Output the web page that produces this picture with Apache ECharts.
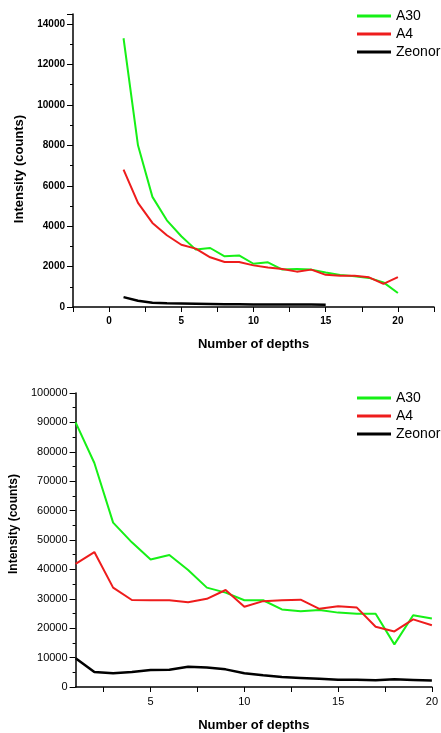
<!DOCTYPE html>
<html>
<head>
<meta charset="utf-8">
<script src="https://cdn.jsdelivr.net/npm/echarts@6/dist/echarts.min.js"></script>
<style>
html, body { margin: 0; padding: 0; background: #fff; }
#main { width: 441px; height: 733px; }
</style>
</head>
<body>
<div id="main"></div>
<script>
const myChart = echarts.init(document.getElementById('main'));

// top chart
const depthsTop = [1, 2, 3, 4, 5, 6, 7, 8, 9, 10, 11, 12, 13, 14, 15, 16, 17, 18, 19, 20];
const a30Top = [13300, 8000, 5450, 4290, 3500, 2840, 2920, 2510, 2550, 2140, 2210, 1850, 1880, 1850, 1710, 1590, 1520, 1440, 1220, 690];
const a4Top = [6800, 5150, 4160, 3550, 3080, 2890, 2460, 2230, 2230, 2060, 1950, 1880, 1750, 1850, 1590, 1550, 1550, 1470, 1140, 1480];
const zeonorTop = [490, 310, 210, 180, 175, 165, 150, 130, 130, 125, 120, 120, 125, 120, 110];

// bottom chart
const depthsBottom = [1, 2, 3, 4, 5, 6, 7, 8, 9, 10, 11, 12, 13, 14, 15, 16, 17, 18, 19, 20];
const a30Bottom = [90000, 76200, 55900, 49200, 43400, 44900, 39800, 33800, 32100, 29500, 29500, 26400, 25800, 26200, 25300, 24900, 24900, 14500, 24400, 23300];
const a4Bottom = [41900, 45900, 33800, 29600, 29500, 29500, 28800, 30000, 33000, 27300, 29200, 29500, 29700, 26600, 27500, 27000, 20500, 18900, 23000, 21000];
const zeonorBottom = [9800, 5100, 4700, 5100, 5800, 5900, 6900, 6600, 6000, 4700, 4000, 3400, 3100, 2800, 2500, 2500, 2300, 2600, 2400, 2200];

const topXTicks = [0, 5, 10, 15, 20];
const bottomXTicks = [5, 10, 15, 20];
const bottomXMinor = [2.5, 5, 7.5, 10, 12.5, 15, 17.5, 20];

const names = ['A30', 'A4', 'Zeonor'];
const colors = ['#16f016', '#ee1c1c', '#000000'];

function pairs(xs, ys) {
    return ys.map(function (v, i) { return [xs[i], v]; });
}

const axisLine = { show: true, onZero: false, lineStyle: { color: '#000', width: 1.5 } };
const fontFam = 'Liberation Sans, Arial, sans-serif';
const plain = function (v) { return String(v); };

option = {
    animation: false,
    backgroundColor: '#fff',
    color: colors,
    legend: [
        {
            data: names, orient: 'vertical', left: 357, top: 9, padding: 0,
            icon: 'rect', itemWidth: 34, itemHeight: 3, itemGap: 4,
            textStyle: { fontSize: 14, color: '#000', fontFamily: fontFam }
        },
        {
            data: names, orient: 'vertical', left: 357, top: 391, padding: 0,
            icon: 'rect', itemWidth: 34, itemHeight: 3, itemGap: 4,
            textStyle: { fontSize: 14, color: '#000', fontFamily: fontFam }
        }
    ],
    grid: [
        { left: 73, top: 14, width: 361, height: 293 },
        { left: 73, top: 393, width: 362, height: 295 }
    ],
    xAxis: [
        {
            type: 'value', gridIndex: 0, min: -2.5, max: 22.5, interval: 2.5,
            name: 'Number of depths', nameLocation: 'middle', nameGap: 31,
            nameTextStyle: { fontSize: 13, fontWeight: 'bold', color: '#000', fontFamily: fontFam },
            axisLine: axisLine,
            axisTick: { show: true, length: 5, lineStyle: { color: '#000' } },
            axisLabel: {
                fontSize: 10, fontWeight: 'bold', color: '#000', margin: 9, fontFamily: fontFam,
                formatter: function (v) { return topXTicks.indexOf(v) >= 0 ? String(v) : ''; }
            },
            splitLine: { show: false }
        },
        {
            type: 'value', gridIndex: 1, min: 1, max: 20,
            name: 'Number of depths', nameLocation: 'middle', nameGap: 32,
            nameTextStyle: { fontSize: 13, fontWeight: 'bold', color: '#000', fontFamily: fontFam },
            axisLine: axisLine,
            axisTick: { show: true, length: 5, customValues: bottomXMinor, lineStyle: { color: '#000' } },
            axisLabel: { fontSize: 11, color: '#000', margin: 9, customValues: bottomXTicks, fontFamily: fontFam, formatter: plain },
            splitLine: { show: false }
        }
    ],
    yAxis: [
        {
            type: 'value', gridIndex: 0, min: 0, max: 14500, interval: 2000,
            name: 'Intensity (counts)', nameLocation: 'middle', nameGap: 44,
            nameTextStyle: { fontSize: 13, fontWeight: 'bold', color: '#000', fontFamily: fontFam, padding: [0, 17, 0, 0] },
            axisLine: axisLine,
            axisTick: { show: true, length: 6, lineStyle: { color: '#000' } },
            minorTick: { show: true, splitNumber: 2, length: 3, lineStyle: { color: '#000' } },
            axisLabel: { fontSize: 10, fontWeight: 'bold', color: '#000', margin: 8, showMaxLabel: false, fontFamily: fontFam, formatter: plain },
            splitLine: { show: false }
        },
        {
            type: 'value', gridIndex: 1, min: 0, max: 100000, interval: 10000,
            name: 'Intensity (counts)', nameLocation: 'middle', nameGap: 47,
            nameTextStyle: { fontSize: 12, fontWeight: 'bold', color: '#000', fontFamily: fontFam, padding: [0, 0, 0, 32] },
            axisLine: axisLine,
            axisTick: { show: true, length: 6, lineStyle: { color: '#000' } },
            minorTick: { show: true, splitNumber: 2, length: 3, lineStyle: { color: '#000' } },
            axisLabel: { fontSize: 11, color: '#000', margin: 8, fontFamily: fontFam, formatter: plain },
            splitLine: { show: false }
        }
    ],
    series: [
        { name: 'A30', type: 'line', xAxisIndex: 0, yAxisIndex: 0, data: pairs(depthsTop, a30Top), showSymbol: false, lineStyle: { width: 2 } },
        { name: 'A4', type: 'line', xAxisIndex: 0, yAxisIndex: 0, data: pairs(depthsTop, a4Top), showSymbol: false, lineStyle: { width: 2 } },
        { name: 'Zeonor', type: 'line', xAxisIndex: 0, yAxisIndex: 0, data: pairs(depthsTop, zeonorTop), showSymbol: false, lineStyle: { width: 2.5 } },
        { name: 'A30', type: 'line', xAxisIndex: 1, yAxisIndex: 1, data: pairs(depthsBottom, a30Bottom), showSymbol: false, lineStyle: { width: 2 } },
        { name: 'A4', type: 'line', xAxisIndex: 1, yAxisIndex: 1, data: pairs(depthsBottom, a4Bottom), showSymbol: false, lineStyle: { width: 2 } },
        { name: 'Zeonor', type: 'line', xAxisIndex: 1, yAxisIndex: 1, data: pairs(depthsBottom, zeonorBottom), showSymbol: false, lineStyle: { width: 2.5 } }
    ]
};

myChart.setOption(option);
</script>
</body>
</html>
